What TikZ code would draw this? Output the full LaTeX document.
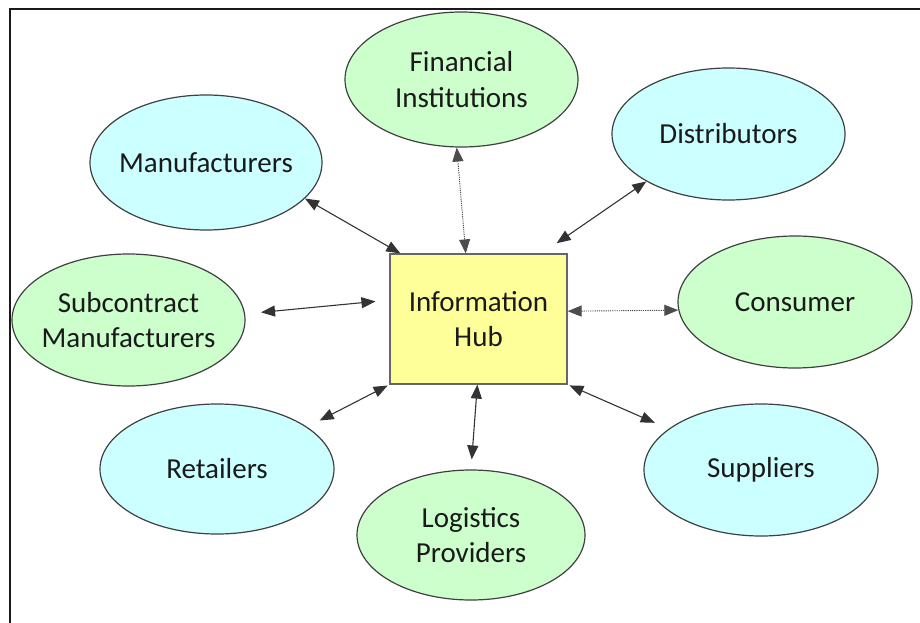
\documentclass[tikz,border=0pt]{standalone}
\usepackage{fontspec}
\setmainfont{Carlito}
\usetikzlibrary{shapes.geometric,arrows.meta}
\definecolor{cyanfill}{HTML}{CCFFFF}
\definecolor{greenfill}{HTML}{CCFFCC}
\definecolor{hubfill}{HTML}{FFFF99}
\definecolor{txt}{HTML}{1A1A1A}
\tikzset{
  oval/.style={ellipse, draw=black!75, line width=1.2pt, inner xsep=-70pt, inner ysep=-40pt,
    minimum width=233pt, minimum height=133pt, align=center,
    font=\fontsize{29}{35.5}\selectfont, text=txt},
  cyanoval/.style={oval, fill=cyanfill},
  greenoval/.style={oval, fill=greenfill},
  hubbox/.style={draw=black!60, line width=1.2pt, fill=hubfill, minimum width=177pt,
    minimum height=130pt, inner sep=0pt, align=center,
    font=\fontsize{29}{35.5}\selectfont, text=txt},
  link/.style={{Triangle[length=14pt,width=11pt]}-{Triangle[length=14pt,width=11pt]},
    line width=1.1pt, draw=black!80},
  dotlink/.style={link, line width=0.9pt, dash pattern=on 1.2pt off 1pt, draw=black!70}
}
\begin{document}
\begin{tikzpicture}[x=1pt,y=-1pt]
\useasboundingbox (0,0) rectangle (920,623);
\begin{scope}
\clip (0,0) rectangle (920,623);
\draw[line width=2pt, draw=black!90] (9.5,9.5) rectangle (940,640);
\end{scope}
\node[hubbox] (hub) at (478.5,319) {Information\\Hub};
\node[greenoval, minimum width=233pt, minimum height=135pt] (fin) at (461.5,79.5) {Financial\\Institutions};
\node[cyanoval, minimum height=132pt] (dis) at (728.5,134) {Distributors};
\node[cyanoval, minimum width=232pt, minimum height=135pt] (man) at (206,162.5) {Manufacturers};
\node[greenoval, minimum height=132pt] (sub) at (128.5,320) {Subcontract\\Manufacturers};
\node[greenoval, minimum width=234pt, minimum height=132pt] (con) at (795,302) {Consumer};
\node[cyanoval, minimum width=234pt, minimum height=130pt] (ret) at (217,469) {Retailers};
\node[greenoval, minimum width=228pt, minimum height=130pt] (log) at (471,535) {Logistics\\Providers};
\node[cyanoval, minimum width=234pt, minimum height=132pt] (sup) at (761,470) {Suppliers};

\draw[link] (man.-20) -- (hub.140);
\draw[dotlink] (fin.-94) -- (hub.101);
\draw[link, shorten >=18pt] (dis.-150) -- (hub.46);
\draw[link, shorten <=16pt, shorten >=14pt] (sub.3) -- (hub.168);
\draw[dotlink] (hub.5) -- (con.184);
\draw[link, shorten <=14pt, shorten >=2pt] (ret.25) -- (hub.south west);
\draw[link, shorten >=10pt] (hub.-91) -- (log.north);
\draw[link, shorten <=2pt, shorten >=15pt] (hub.south east) -- (sup.156);
\end{tikzpicture}
\end{document}
